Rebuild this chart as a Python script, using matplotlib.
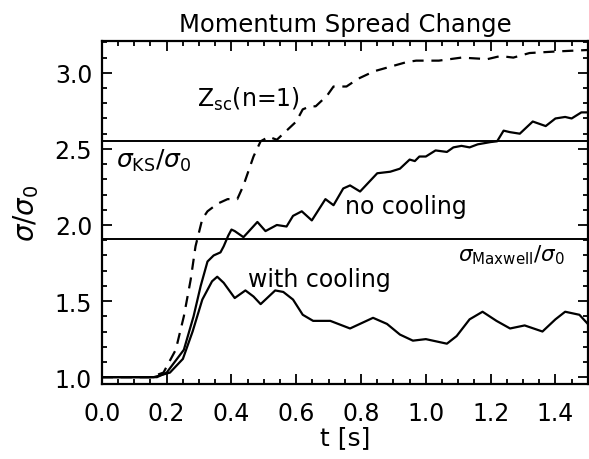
import numpy as np
import matplotlib.pyplot as plt

plt.rcParams['font.family'] = 'DejaVu Sans'
plt.rcParams['mathtext.fontset'] = 'dejavusans'

# Zsc(n=1) curve (dashed)
t_zsc = [0.0, 0.15, 0.19, 0.228, 0.253, 0.274, 0.289, 0.31, 0.326, 0.357, 0.388,
         0.418, 0.437, 0.468, 0.49, 0.515, 0.54, 0.57, 0.6, 0.62, 0.643, 0.66,
         0.695, 0.715, 0.755, 0.79, 0.84, 0.89, 0.94, 0.97, 1.04, 1.11, 1.19,
         1.23, 1.27, 1.32, 1.40, 1.5]
v_zsc = [1.0, 1.0, 1.03, 1.18, 1.40, 1.64, 1.86, 2.04, 2.09, 2.14, 2.17,
         2.17, 2.26, 2.45, 2.55, 2.58, 2.56, 2.62, 2.68, 2.76, 2.78, 2.78,
         2.85, 2.91, 2.91, 2.96, 3.01, 3.04, 3.07, 3.08, 3.08, 3.10, 3.09,
         3.11, 3.10, 3.13, 3.14, 3.15]

# no cooling
t_nocool = [0.0, 0.17, 0.2, 0.253, 0.283, 0.305, 0.326, 0.345, 0.366, 0.376, 0.39,
            0.40, 0.41, 0.437, 0.45, 0.48, 0.505, 0.54, 0.57, 0.59, 0.617, 0.648,
            0.69, 0.715, 0.745, 0.766, 0.797, 0.85, 0.89, 0.92, 0.95, 0.966, 0.98,
            1.0, 1.03, 1.065, 1.085, 1.11, 1.135, 1.16, 1.2, 1.22, 1.24, 1.26,
            1.29, 1.33, 1.37, 1.40, 1.43, 1.45, 1.48, 1.5]
v_nocool = [1.0, 1.0, 1.03, 1.18, 1.40, 1.60, 1.76, 1.80, 1.82, 1.86, 1.93,
            1.97, 1.96, 1.92, 1.95, 2.02, 1.96, 2.0, 1.99, 2.06, 2.09, 2.03,
            2.17, 2.13, 2.24, 2.26, 2.22, 2.34, 2.35, 2.37, 2.43, 2.42, 2.45,
            2.45, 2.49, 2.48, 2.51, 2.52, 2.51, 2.53, 2.545, 2.55, 2.62, 2.61,
            2.6, 2.68, 2.65, 2.70, 2.71, 2.70, 2.74, 2.74]

# with cooling
t_cool = [0.0, 0.16, 0.21, 0.25, 0.28, 0.31, 0.34, 0.356, 0.376, 0.41, 0.443,
          0.468, 0.49, 0.535, 0.56, 0.59, 0.62, 0.652, 0.705, 0.766, 0.837, 0.88,
          0.92, 0.96, 1.0, 1.065, 1.095, 1.135, 1.175, 1.218, 1.26, 1.305, 1.36,
          1.40, 1.43, 1.474, 1.5]
v_cool = [1.0, 1.0, 1.03, 1.12, 1.30, 1.51, 1.63, 1.66, 1.62, 1.52, 1.57,
          1.53, 1.48, 1.57, 1.56, 1.51, 1.41, 1.37, 1.37, 1.32, 1.39, 1.35,
          1.28, 1.24, 1.25, 1.22, 1.27, 1.38, 1.43, 1.37, 1.32, 1.34, 1.30,
          1.38, 1.43, 1.41, 1.35]

sigma_ks = 2.55
sigma_maxwell = 1.91

fig = plt.figure(figsize=(5.89, 4.60), dpi=100)
ax = fig.add_axes([0.173, 0.163, 0.825, 0.746])

ax.plot(t_zsc, v_zsc, color='black', lw=1.6, ls=(0, (5, 3.5)))
ax.plot(t_nocool, v_nocool, color='black', lw=1.6)
ax.plot(t_cool, v_cool, color='black', lw=1.6)
ax.axhline(sigma_ks, color='black', lw=1.4)
ax.axhline(sigma_maxwell, color='black', lw=1.4)

ax.set_xlim(0, 1.5)
ax.set_ylim(0.955, 3.21)
ax.set_xticks(np.arange(0, 1.41, 0.2))
ax.set_xticks(np.arange(0, 1.5, 0.05), minor=True)
ax.set_yticks([1.0, 1.5, 2.0, 2.5, 3.0])
ax.set_yticks(np.arange(1.0, 3.21, 0.1), minor=True)
ax.xaxis.set_major_formatter(plt.FormatStrFormatter('%.1f'))
ax.yaxis.set_major_formatter(plt.FormatStrFormatter('%.1f'))
ax.tick_params(which='both', direction='in', top=True, right=True, width=1.3,
               labelsize=17)
ax.tick_params(which='major', length=7)
ax.tick_params(axis='x', which='major', pad=12)
ax.tick_params(axis='y', which='major', pad=7)
ax.tick_params(which='minor', length=3.5)
for s in ax.spines.values():
    s.set_linewidth(1.6)

ax.set_title('Momentum Spread Change', fontsize=17.5, pad=7)
ax.set_xlabel('t [s]', fontsize=18, labelpad=0)
ax.set_ylabel(r'$\sigma/\sigma_0$', fontsize=20, labelpad=10)

ax.text(0.295, 2.83, r'Z$_{\mathrm{sc}}$(n=1)', fontsize=17, va='center')
ax.text(0.043, 2.43, r'$\sigma_{\mathrm{KS}}/\sigma_0$', fontsize=18, va='center')
ax.text(0.75, 2.125, 'no cooling', fontsize=17, va='center')
ax.text(0.452, 1.645, 'with cooling', fontsize=17, va='center')
ax.text(1.098, 1.81, r'$\sigma_{\mathrm{Maxwell}}/\sigma_0$', fontsize=15.5, va='center')

plt.savefig('out.png', dpi=100)
